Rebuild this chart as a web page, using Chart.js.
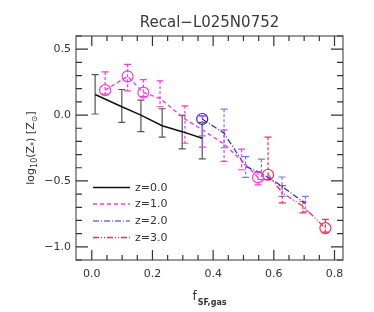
<!DOCTYPE html>
<html><head><meta charset="utf-8">
<script src="https://cdn.jsdelivr.net/npm/chart.js@4/dist/chart.umd.min.js"></script>
<style>html,body{margin:0;padding:0;background:#fff}#wrap{width:374px;height:312px}</style>
</head><body><div id="wrap"><canvas id="c" width="374" height="312"></canvas></div>
<script>
// ---- data ----
const seriesLabels = ["z=0.0", "z=1.0", "z=2.0", "z=3.0"];
const z0X  = [0.011, 0.099, 0.162, 0.232, 0.298, 0.364];
const z0Y  = [0.156, 0.063, 0.000, -0.081, -0.126, -0.176];
const z0Hi = [0.151, 0.131, 0.113, 0.129, 0.123, 0.121];
const z0Lo = [0.148, 0.118, 0.126, 0.087, 0.131, 0.156];
const z0Circ = [0, 0, 0, 0, 0, 0];

const z1X  = [0.044, 0.118, 0.170, 0.225, 0.307, 0.365, 0.436, 0.494, 0.548];
const z1Y  = [0.189, 0.294, 0.171, 0.126, -0.030, -0.113, -0.220, -0.345, -0.473];
const z1Hi = [0.138, 0.091, 0.098, 0.133, 0.100, 0.105, 0.107, 0.086, 0.043];
const z1Lo = [0.030, 0.111, 0.030, 0.063, 0.184, 0.131, 0.132, 0.070, 0.057];
const z1Circ = [1, 1, 1, 0, 0, 0, 0, 0, 1];

const z2X  = [0.364, 0.436, 0.507, 0.559, 0.627, 0.704];
const z2Y  = [-0.030, -0.138, -0.390, -0.440, -0.541, -0.672];
const z2Hi = [0.025, 0.183, 0.075, 0.105, 0.071, 0.055];
const z2Lo = [0.128, 0.110, 0.083, 0.050, 0.076, 0.058];
const z2Circ = [1, 0, 0, 0, 0, 0];

const z3X  = [0.581, 0.628, 0.696, 0.770];
const z3Y  = [-0.453, -0.590, -0.692, -0.858];
const z3Hi = [0.285, 0.054, 0.038, 0.066];
const z3Lo = [0.037, 0.077, 0.050, 0.030];
const z3Circ = [1, 0, 0, 1];

const xMajorTicks = [0.0, 0.2, 0.4, 0.6, 0.8];
const xTickLabels = ["0.0", "0.2", "0.4", "0.6", "0.8"];
const xMinorTicks = [0.05,0.1,0.15,0.25,0.3,0.35,0.45,0.5,0.55,0.65,0.7,0.75];
const yMajorTicks = [0.5, 0.0, -0.5, -1.0];
const yTickLabels = ["0.5", "0.0", "\u22120.5", "\u22121.0"];
const yMinorTicks = [0.4,0.3,0.2,0.1,-0.1,-0.2,-0.3,-0.4,-0.6,-0.7,-0.8,-0.9,0.6,-1.1];

const titleText = "Recal\u2212L025N0752";

// ---- styles ----
const styles = [
  {color:'#111111', err:'#555555', dash:[], width:1.5},
  {color:'#ff38d8', err:'#ff38d8', dash:[4,3], width:1.4},
  {color:'#2626e6', err:'#7878f2', dash:[6,2,1,2], width:1.2},
  {color:'#ff2a5c', err:'#ff2a5c', dash:[6,2,1,2,1,2], width:1.3}
];
const seriesX = [z0X, z1X, z2X, z3X];
const seriesY = [z0Y, z1Y, z2Y, z3Y];
const seriesHi = [z0Hi, z1Hi, z2Hi, z3Hi];
const seriesLo = [z0Lo, z1Lo, z2Lo, z3Lo];
const seriesCirc = [z0Circ, z1Circ, z2Circ, z3Circ];

const datasets = seriesX.map((xs, i) => ({
  label: seriesLabels[i],
  data: xs.map((x, j) => ({x: x, y: seriesY[i][j]})),
  showLine: true,
  borderColor: styles[i].color,
  borderWidth: styles[i].width,
  borderDash: styles[i].dash,
  backgroundColor: 'rgba(0,0,0,0)',
  pointRadius: seriesCirc[i].map(c => c ? 5.5 : 0),
  pointHoverRadius: 0,
  pointBorderColor: styles[i].color,
  pointBackgroundColor: 'rgba(0,0,0,0)',
  pointBorderWidth: 1.2,
  tension: 0,
  fill: false
}));

const FONT = "'DejaVu Sans', sans-serif";

const decor = {
  id: 'decor',
  beforeDatasetsDraw(chart) {
    const ctx = chart.ctx, xs = chart.scales.x, ys = chart.scales.y;
    ctx.save();
    ctx.beginPath();
    const a = chart.chartArea;
    ctx.rect(a.left, a.top, a.right - a.left, a.bottom - a.top);
    ctx.clip();
    seriesX.forEach((arr, i) => {
      ctx.strokeStyle = styles[i].err;
      ctx.lineWidth = 1.2;
      arr.forEach((x, j) => {
        const px = xs.getPixelForValue(x);
        const yt = ys.getPixelForValue(seriesY[i][j] + seriesHi[i][j]);
        const yb = ys.getPixelForValue(seriesY[i][j] - seriesLo[i][j]);
        ctx.setLineDash(i === 0 ? [] : [3, 2]);
        ctx.beginPath(); ctx.moveTo(px, yt); ctx.lineTo(px, yb); ctx.stroke();
        ctx.setLineDash([]);
        ctx.beginPath();
        ctx.moveTo(px - 3.5, yt); ctx.lineTo(px + 3.5, yt);
        ctx.moveTo(px - 3.5, yb); ctx.lineTo(px + 3.5, yb);
        ctx.stroke();
      });
    });
    ctx.restore();
  },
  afterDraw(chart) {
    const ctx = chart.ctx, xs = chart.scales.x, ys = chart.scales.y, a = chart.chartArea;
    ctx.save();
    // title centred over the plot area
    ctx.fillStyle = '#3a3a3a';
    ctx.font = "15px " + FONT;
    ctx.textAlign = 'center'; ctx.textBaseline = 'middle';
    ctx.fillText(titleText, (a.left + a.right) / 2, 23);
    ctx.textAlign = 'left';
    // frame
    ctx.strokeStyle = '#555'; ctx.lineWidth = 1.2; ctx.setLineDash([]);
    ctx.strokeRect(a.left, a.top, a.right - a.left, a.bottom - a.top);
    // ticks
    ctx.strokeStyle = '#333'; ctx.lineWidth = 1.2;
    const tickX = (v, len) => {
      const p = xs.getPixelForValue(v);
      ctx.beginPath();
      ctx.moveTo(p, a.bottom); ctx.lineTo(p, a.bottom - len);
      ctx.moveTo(p, a.top); ctx.lineTo(p, a.top + len);
      ctx.stroke();
    };
    const tickY = (v, len) => {
      const p = ys.getPixelForValue(v);
      ctx.beginPath();
      ctx.moveTo(a.left, p); ctx.lineTo(a.left + len, p);
      ctx.moveTo(a.right, p); ctx.lineTo(a.right - len, p);
      ctx.stroke();
    };
    xMajorTicks.forEach(v => tickX(v, 10));
    xMinorTicks.forEach(v => tickX(v, 5));
    yMajorTicks.forEach(v => tickY(v, 12));
    yMinorTicks.forEach(v => tickY(v, 6));

    // legend inside plot
    const legY = [187.5, 204, 221, 237.5];
    ctx.font = "11px " + FONT;
    ctx.textBaseline = 'middle'; ctx.textAlign = 'left';
    seriesLabels.forEach((lab, i) => {
      ctx.strokeStyle = styles[i].color; ctx.lineWidth = styles[i].width;
      ctx.setLineDash(styles[i].dash);
      ctx.beginPath(); ctx.moveTo(93, legY[i]); ctx.lineTo(130, legY[i]); ctx.stroke();
      ctx.setLineDash([]);
      ctx.fillStyle = '#333';
      ctx.fillText(lab, 135, legY[i] + 0.5);
    });

    // x-axis title: f_{SF,gas}
    ctx.fillStyle = '#333';
    ctx.textBaseline = 'alphabetic';
    const cx = (a.left + a.right) / 2;
    ctx.font = "12px " + FONT;
    const wF = ctx.measureText('f').width;
    ctx.font = "bold 8px " + FONT;
    const wS = ctx.measureText('SF,gas').width;
    let x0 = cx - (wF + wS + 1) / 2;
    ctx.font = "12px " + FONT; ctx.fillText('f', x0, 300);
    ctx.font = "bold 8px " + FONT; ctx.fillText('SF,gas', x0 + wF + 1, 305);

    // y-axis title: log10(Z*) [Zsun]
    ctx.translate(30, (a.top + a.bottom) / 2);
    ctx.rotate(-Math.PI / 2);
    const parts = [
      ['log', 11, 0], ['10', 8, 3], ['(Z', 11, 0], ['*', 8, 3], [') [Z', 11, 0], ['\u2299', 8, 3], [']', 11, 0]
    ];
    let tw = 0;
    parts.forEach(p => { ctx.font = p[1] + "px " + FONT; tw += ctx.measureText(p[0]).width; });
    let xx = -tw / 2;
    parts.forEach(p => {
      ctx.font = p[1] + "px " + FONT;
      ctx.fillText(p[0], xx, 4 + p[2]);
      xx += ctx.measureText(p[0]).width;
    });
    ctx.restore();
  }
};

new Chart(document.getElementById('c'), {
  type: 'scatter',
  data: { datasets: datasets },
  options: {
    responsive: false,
    animation: false,
    devicePixelRatio: 1,
    layout: { padding: { left: 0, right: 31, top: 36, bottom: 0 } },
    plugins: {
      legend: { display: false },
      tooltip: { enabled: false },
      title: { display: false }
    },
    scales: {
      x: {
        type: 'linear', min: -0.052, max: 0.828,
        afterBuildTicks: s => { s.ticks = xMajorTicks.map(v => ({ value: v })); },
        afterFit: s => { s.height = 52; },
        ticks: {
          autoSkip: false, maxRotation: 0, padding: 8, color: '#333',
          font: { family: FONT, size: 11 },
          callback: (v) => { const k = xMajorTicks.findIndex(t => Math.abs(t - v) < 1e-9); return k >= 0 ? xTickLabels[k] : ''; }
        },
        grid: { display: false, drawTicks: false },
        border: { display: false }
      },
      y: {
        type: 'linear', min: -1.1, max: 0.6,
        afterBuildTicks: s => { s.ticks = yMajorTicks.map(v => ({ value: v })); },
        afterFit: s => { s.width = 76; },
        ticks: {
          autoSkip: false, padding: 5, color: '#333',
          font: { family: FONT, size: 11 },
          callback: (v) => { const k = yMajorTicks.findIndex(t => Math.abs(t - v) < 1e-9); return k >= 0 ? yTickLabels[k] : ''; }
        },
        grid: { display: false, drawTicks: false },
        border: { display: false }
      }
    }
  },
  plugins: [decor]
});
</script>
</body></html>
